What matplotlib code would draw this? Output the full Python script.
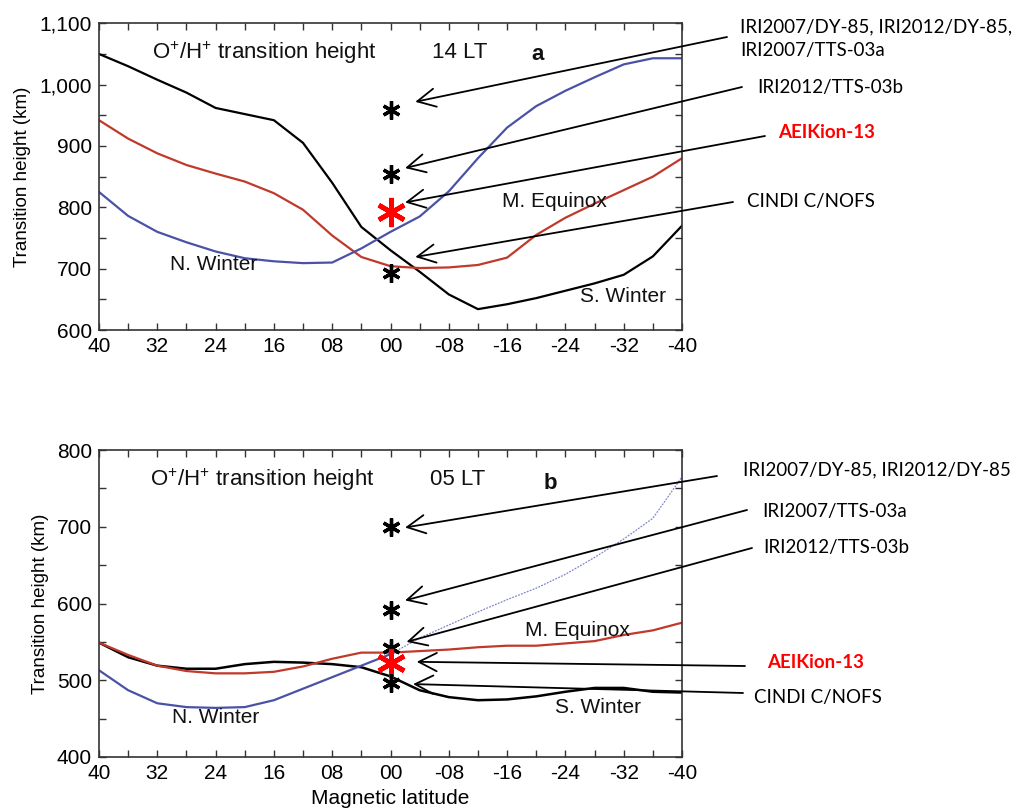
import numpy as np
import matplotlib
matplotlib.use('Agg')
import matplotlib.pyplot as plt
from matplotlib.ticker import MultipleLocator, FixedLocator

plt.rcParams['font.family'] = ['Liberation Sans', 'DejaVu Sans']
plt.rcParams['mathtext.default'] = 'regular'

# magnetic latitude grid (deg)
lat = [40, 36, 32, 28, 24, 20, 16, 12, 8, 4, 0, -4, -8, -12, -16, -20, -24, -28, -32, -36, -40]

# panel a, 14 LT
black_a = [1050, 1030, 1008, 987, 962, 952, 942, 905, 840, 768, 730, 695, 658, 634, 642, 652, 664, 676, 690, 720, 770]
red_a = [942, 912, 888, 869, 855, 842, 823, 796, 754, 719, 704, 701, 702, 706, 718, 755, 783, 806, 828, 850, 880]
blue_a = [825, 786, 760, 743, 728, 717, 712, 709, 710, 733, 760, 785, 826, 880, 930, 965, 990, 1012, 1033, 1043, 1043]
stars_a = [958, 855, 793, 693]
stars_a_col = ['k', 'k', 'r', 'k']

# panel b, 05 LT
black_b = [549, 530, 519, 515, 515, 521, 524, 523, 521, 517, 505, 487, 478, 474, 475, 479, 485, 490, 490, 485, 484]
red_b = [549, 533, 519, 512, 509, 509, 511, 518, 528, 536, 536, 538, 540, 543, 545, 545, 548, 551, 559, 565, 575]
lat_blue_b_solid = [40, 36, 32, 28, 24, 20, 16, 12, 8, 4, 0]
blue_b_solid = [513, 487, 470, 465, 464, 465, 474, 489, 504, 519, 534]
lat_blue_b_dot = [0, -4, -8, -12, -16, -20, -24, -28, -32, -36, -40]
blue_b_dot = [534, 555, 572, 589, 605, 620, 638, 660, 684, 711, 765]
stars_b = [700, 592, 542, 522, 497]
stars_b_col = ['k', 'k', 'k', 'r', 'k']

labels_a = ['IRI2007/DY-85, IRI2012/DY-85,\nIRI2007/TTS-03a', 'IRI2012/TTS-03b', 'AEIKion-13', 'CINDI C/NOFS']
labels_b = ['IRI2007/DY-85, IRI2012/DY-85', 'IRI2007/TTS-03a', 'IRI2012/TTS-03b', 'AEIKion-13', 'CINDI C/NOFS']

xticks = [40, 32, 24, 16, 8, 0, -8, -16, -24, -32, -40]
xticklabels = ['40', '32', '24', '16', '08', '00', '-08', '-16', '-24', '-32', '-40']

W, H = 1015, 811
fig = plt.figure(figsize=(W / 100, H / 100), dpi=100)

def px(x, y):
    # pixel -> figure fraction
    return (x / W, 1 - y / H)

BLK = '#000000'
RED = '#c0392b'
BLU = '#4b52a6'

def setup(ax, ylo, yhi, ymaj):
    ax.set_xlim(40, -40)
    ax.set_ylim(ylo, yhi)
    ax.xaxis.set_major_locator(FixedLocator(xticks))
    ax.set_xticklabels(xticklabels)
    ax.xaxis.set_minor_locator(MultipleLocator(4))
    ax.yaxis.set_major_locator(MultipleLocator(ymaj))
    ax.yaxis.set_minor_locator(MultipleLocator(ymaj / 2))
    ax.tick_params(which='both', direction='in', top=True, right=True, length=5,
                   width=1, color='#333333', labelsize=15, pad=5)
    for s in ax.spines.values():
        s.set_color('#333333')
        s.set_linewidth(1.2)
    ax.set_ylabel('Transition height (km)', fontsize=13.5, labelpad=6)

txt = dict(fontsize=15, color='#111111')
ttl = dict(fontsize=16, color='#111111')
afont = ['Lato', 'DejaVu Sans']
AFS = 13.5
arrow = dict(arrowstyle='->,head_length=0.65,head_width=0.33', color='k', lw=1.3,
             shrinkA=0, shrinkB=0, mutation_scale=20)

# ---------- panel a ----------
ax1 = fig.add_axes([99 / W, 1 - 330 / H, 583 / W, 306.7 / H])
ax1.plot(lat, black_a, color=BLK, lw=1.6)
ax1.plot(lat, red_a, color=RED, lw=1.6)
ax1.plot(lat, blue_a, color=BLU, lw=1.6)
for y, c in zip(stars_a, stars_a_col):
    big = c == 'r'
    ax1.plot(0, y, marker=(6, 2, 0), ms=21 if big else 13, mew=3.4 if big else 2.4,
             color='#ff0000' if big else 'k', clip_on=False)
setup(ax1, 600, 1100, 100)
ax1.yaxis.set_major_formatter(matplotlib.ticker.FuncFormatter(lambda v, p: f'{int(v):,}'))
ax1.text(32.7, 1052, 'O$^{+}$/H$^{+}$ transition height', va='center', **ttl)
ax1.text(-5.7, 1052, '14 LT', va='center', **ttl)
ax1.text(-20.2, 1049, 'a', va='center', ha='center', fontweight='bold', **ttl)
ax1.text(30.3, 706, 'N. Winter', va='center', **txt)
ax1.text(-15.3, 809, 'M. Equinox', va='center', **txt)
ax1.text(-26, 654, 'S. Winter', va='center', **txt)

heads_a = [(-3.4, 972), (-2.0, 864), (-2.0, 808), (-3.4, 719)]
tails_a = [(727, 37), (742, 87), (765, 136), (733, 202)]
for (hx, hy), (tx, ty) in zip(heads_a, tails_a):
    ax1.annotate('', xy=(hx, hy), xycoords='data', xytext=px(tx, ty),
                 textcoords='figure fraction', arrowprops=arrow, annotation_clip=False)
fig.text(*px(740, 39), labels_a[0], fontsize=AFS, family=afont, va='center', linespacing=1.45)
fig.text(*px(757, 88), labels_a[1], fontsize=AFS, family=afont, va='center')
fig.text(*px(778, 132), labels_a[2], fontsize=AFS, family=afont, va='center',
         color='#ff0000', fontweight='bold')
fig.text(*px(747, 202), labels_a[3], fontsize=AFS, family=afont, va='center')

# ---------- panel b ----------
ax2 = fig.add_axes([99 / W, 1 - 757 / H, 583 / W, 307 / H])
ax2.plot(lat, black_b, color=BLK, lw=1.8)
ax2.plot(lat, red_b, color=RED, lw=1.6)
ax2.plot(lat_blue_b_solid, blue_b_solid, color=BLU, lw=1.6)
ax2.plot(lat_blue_b_dot, blue_b_dot, color='#7f86cc', lw=0.9, ls=(0, (1.5, 1)))
for y, c in zip(stars_b, stars_b_col):
    big = c == 'r'
    ax2.plot(0, y, marker=(6, 2, 0), ms=21 if big else 13, mew=3.4 if big else 2.4,
             color='#ff0000' if big else 'k', clip_on=False)
setup(ax2, 400, 800, 100)
ax2.set_xlabel('Magnetic latitude', fontsize=15, labelpad=4)
ax2.text(33, 761, 'O$^{+}$/H$^{+}$ transition height', va='center', **ttl)
ax2.text(-5.4, 761, '05 LT', va='center', **ttl)
ax2.text(-21.9, 757, 'b', va='center', ha='center', fontweight='bold', **ttl)
ax2.text(30, 451, 'N. Winter', va='center', **txt)
ax2.text(-18.4, 565, 'M. Equinox', va='center', **txt)
ax2.text(-22.6, 465, 'S. Winter', va='center', **txt)

heads_b = [(-2.0, 699), (-2.0, 604), (-2.2, 550), (-3.6, 524), (-3.1, 495)]
tails_b = [(717, 476), (747, 510), (752, 548), (745, 666), (743, 693)]
for (hx, hy), (tx, ty) in zip(heads_b, tails_b):
    ax2.annotate('', xy=(hx, hy), xycoords='data', xytext=px(tx, ty),
                 textcoords='figure fraction', arrowprops=arrow, annotation_clip=False)
fig.text(*px(743, 470), labels_b[0], fontsize=AFS, family=afont, va='center')
fig.text(*px(762, 512), labels_b[1], fontsize=AFS, family=afont, va='center')
fig.text(*px(763, 547), labels_b[2], fontsize=AFS, family=afont, va='center')
fig.text(*px(767, 662), labels_b[3], fontsize=AFS, family=afont, va='center',
         color='#ff0000', fontweight='bold')
fig.text(*px(754, 697), labels_b[4], fontsize=AFS, family=afont, va='center')

fig.savefig('out.png', dpi=100)
